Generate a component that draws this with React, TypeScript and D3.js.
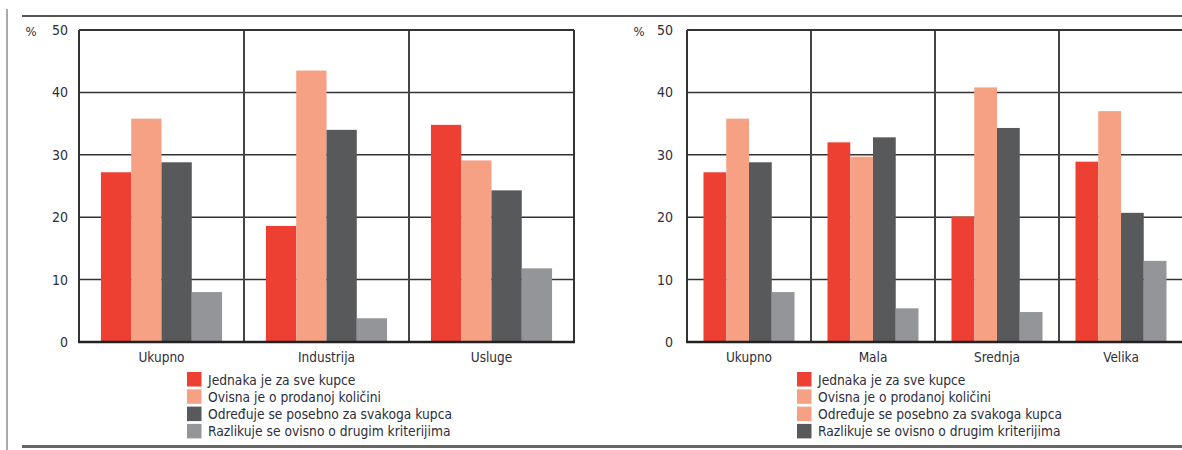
import React from "react";
import * as d3 from "d3";

const seriesNames = [
  "Jednaka je za sve kupce",
  "Ovisna je o prodanoj količini",
  "Određuje se posebno za svakoga kupca",
  "Razlikuje se ovisno o drugim kriterijima",
];
const seriesColors = ["#EE3F33", "#F6A084", "#58595B", "#939598"];

const yTicks = [0, 10, 20, 30, 40, 50];

const leftCategories = ["Ukupno", "Industrija", "Usluge"];
const leftJednaka = [27.2, 18.6, 34.8];
const leftOvisna = [35.8, 43.5, 29.1];
const leftOdreduje = [28.8, 34.0, 24.3];
const leftRazlikuje = [8.0, 3.8, 11.8];
const leftLegendColors = ["#EE3F33", "#F6A084", "#58595B", "#939598"];

const rightCategories = ["Ukupno", "Mala", "Srednja", "Velika"];
const rightJednaka = [27.2, 32.0, 20.1, 28.9];
const rightOvisna = [35.8, 29.7, 40.8, 37.0];
const rightOdreduje = [28.8, 32.8, 34.3, 20.7];
const rightRazlikuje = [8.0, 5.4, 4.8, 13.0];
const rightLegendColors = ["#EE3F33", "#F6A084", "#F6A084", "#58595B"];

const FONT = "'Liberation Sans Narrow', 'DejaVu Sans Condensed', 'Liberation Sans', sans-serif";
const TEXT = "#2e2e3c";

type PanelProps = {
  categories: string[];
  series: number[][];
  legendColors: string[];
  x0: number;
  x1: number;
  tickRight: number;
  pctX: number;
  legendX: number;
};

function Panel({ categories, series, legendColors, x0, x1, tickRight, pctX, legendX }: PanelProps) {
  const yTop = 30;
  const yBottom = 342;
  const y = d3.scaleLinear().domain([0, 50]).range([yBottom, yTop]);
  const gx = d3.scaleBand<string>().domain(categories).range([x0, x1]).padding(0);
  const bw = gx.bandwidth();
  const pad = bw * 0.133;
  const sx = d3
    .scaleBand<number>()
    .domain(series.map((_, i) => i))
    .range([pad, bw - pad])
    .padding(0);

  return (
    <g>
      {yTicks
        .filter((t) => t > 0 && t < 50)
        .map((t) => (
          <line key={"g" + t} x1={x0} x2={x1} y1={y(t)} y2={y(t)} stroke="#333" strokeWidth={1.5} />
        ))}
      {categories.map((c, ci) =>
        series.map((s, si) => (
          <rect
            key={c + si}
            x={(gx(c) as number) + (sx(si) as number)}
            y={y(s[ci])}
            width={sx.bandwidth()}
            height={y(0) - y(s[ci])}
            fill={seriesColors[si]}
          />
        ))
      )}
      {categories.slice(1).map((c) => (
        <line key={"s" + c} x1={gx(c)} x2={gx(c)} y1={yTop} y2={yBottom} stroke="#444" strokeWidth={2} />
      ))}
      <line x1={x0} x2={x1} y1={yTop} y2={yTop} stroke="#333" strokeWidth={2} />
      <line x1={x0} x2={x0} y1={yTop} y2={yBottom} stroke="#333" strokeWidth={2} />
      <line x1={x1} x2={x1} y1={yTop} y2={yBottom} stroke="#333" strokeWidth={2} />
      <line x1={x0 - 1} x2={x1 + 1} y1={yBottom} y2={yBottom} stroke="#222" strokeWidth={2.5} />
      {yTicks.map((t) => (
        <text
          key={"t" + t}
          x={tickRight}
          y={y(t)}
          textAnchor="end"
          dominantBaseline="central"
          fontSize={14}
          fontFamily={FONT}
          fill={TEXT}
        >
          {t}
        </text>
      ))}
      <text x={pctX} y={yTop + 1} textAnchor="middle" dominantBaseline="central" fontSize={13} fontFamily={FONT} fill={TEXT}>
        %
      </text>
      {categories.map((c) => (
        <text
          key={"c" + c}
          x={(gx(c) as number) + bw / 2}
          y={357}
          textAnchor="middle"
          dominantBaseline="central"
          fontSize={13.5}
          fontFamily={FONT}
          fill={TEXT}
        >
          {c}
        </text>
      ))}
      {seriesNames.map((n, i) => (
        <g key={"l" + i} transform={`translate(${legendX},${372 + i * 17.3})`}>
          <rect x={0} y={0} width={14.5} height={14.5} fill={legendColors[i]} />
          <text x={21} y={7.5} dominantBaseline="central" fontSize={13.7} fontFamily={FONT} fill={TEXT}>
            {n}
          </text>
        </g>
      ))}
    </g>
  );
}

export default function App() {
  return (
    <svg
      width={1182}
      height={450}
      style={{ position: "absolute", left: 0, top: 0, background: "#fff" }}
    >
      <rect x={0} y={0} width={1182} height={450} fill="#fff" />
      <line x1={7} x2={7} y1={9} y2={450} stroke="#aaa" strokeWidth={2} />
      <line x1={22} x2={1182} y1={16} y2={16} stroke="#555" strokeWidth={2} />
      <line x1={22} x2={1182} y1={446.5} y2={446.5} stroke="#666" strokeWidth={3} />
      <Panel
        categories={leftCategories}
        series={[leftJednaka, leftOvisna, leftOdreduje, leftRazlikuje]}
        legendColors={leftLegendColors}
        x0={79}
        x1={574}
        tickRight={68}
        pctX={31}
        legendX={187}
      />
      <Panel
        categories={rightCategories}
        series={[rightJednaka, rightOvisna, rightOdreduje, rightRazlikuje]}
        legendColors={rightLegendColors}
        x0={687}
        x1={1183}
        tickRight={673}
        pctX={639}
        legendX={797}
      />
    </svg>
  );
}
